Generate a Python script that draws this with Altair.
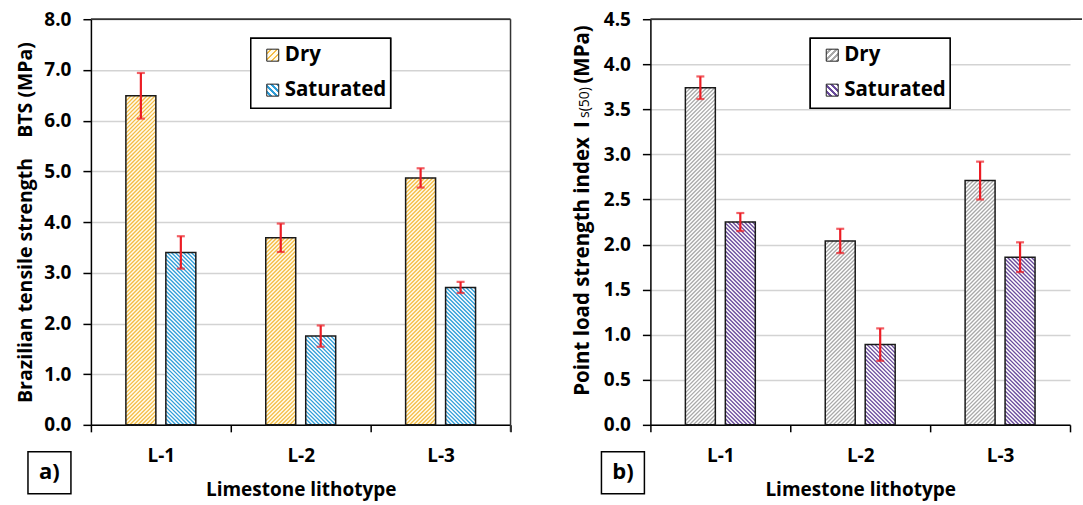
import math
import altair as alt
import pandas as pd

# ---------------- data ----------------
lithotypes = ["L-1", "L-2", "L-3"]
series = ["Dry", "Saturated"]

bts_dry = [6.49, 3.69, 4.87]
bts_dry_err = [0.45, 0.28, 0.19]
bts_sat = [3.40, 1.75, 2.71]
bts_sat_err = [0.32, 0.21, 0.11]

pl_dry = [3.74, 2.04, 2.71]
pl_dry_err = [0.125, 0.135, 0.21]
pl_sat = [2.25, 0.89, 1.86]
pl_sat_err = [0.10, 0.18, 0.165]

bts_ticks = [0, 1, 2, 3, 4, 5, 6, 7, 8]
pl_ticks = [0, 0.5, 1, 1.5, 2, 2.5, 3, 3.5, 4, 4.5]

# ---------------- styling ----------------
FONT = "Open Sans"
PLOT_H = 406
BAND = 140
BAR_W = 30
BAR_LEFT = {"Dry": 35, "Saturated": 75}   # position of each bar inside its band (px)
PERIOD = 4.0
RED = "#ec1c24"

style_a = {
    "Dry": {"bg": "#fffbec", "fg": "#f4bc45", "dir": "/"},
    "Saturated": {"bg": "#ffffff", "fg": "#2f9dd8", "dir": "\\"},
}
style_b = {
    "Dry": {"bg": "#ffffff", "fg": "#a9a9a9", "dir": "/"},
    "Saturated": {"bg": "#ffffff", "fg": "#6a4b9c", "dir": "\\"},
}


def legend_grad(bg, fg, direction, n=4, frac=0.45):
    """small striped gradient for the legend squares"""
    if direction == "/":
        x1, y1, x2, y2 = 0.0, 0.0, 1.0, 1.0
    else:
        x1, y1, x2, y2 = 0.0, 1.0, 1.0, 0.0
    stops = []
    for k in range(n):
        a, b, c = k / n, (k + 1 - frac) / n, (k + 1) / n
        stops += [(a, bg), (b, bg), (b, fg), (c, fg)]
    return {"gradient": "linear", "x1": x1, "y1": y1, "x2": x2, "y2": y2,
            "stops": [{"offset": round(o, 5), "color": c} for o, c in stops]}


def make_df(dry, dry_err, sat, sat_err):
    rows = []
    for i, lt in enumerate(lithotypes):
        rows.append(dict(lithotype=lt, series="Dry", value=dry[i],
                         lo=dry[i] - dry_err[i], hi=dry[i] + dry_err[i]))
        rows.append(dict(lithotype=lt, series="Saturated", value=sat[i],
                         lo=sat[i] - sat_err[i], hi=sat[i] + sat_err[i]))
    return pd.DataFrame(rows)


def hatch_df(df, px, styles):
    """45-degree hatch segments clipped to each bar, in data units."""
    rows = []
    w = BAR_W
    for row in df.itertuples():
        i = lithotypes.index(row.lithotype)
        left = BAR_LEFT[row.series]
        h = row.value * px
        segs = []
        if styles[row.series]["dir"] == "/":
            k = 0
            while True:
                c = -w + (k + 0.5) * PERIOD
                if c >= h:
                    break
                u0, v0 = (0.0, c) if c >= 0 else (-c, 0.0)
                u1, v1 = (w, c + w) if c + w <= h else (h - c, h)
                segs.append((u0, v0, u1, v1))
                k += 1
        else:
            k = 0
            while True:
                c = (k + 0.5) * PERIOD
                if c >= w + h:
                    break
                u0, v0 = (0.0, c) if c <= h else (c - h, h)
                u1, v1 = (c, 0.0) if c <= w else (w, c - w)
                segs.append((u0, v0, u1, v1))
                k += 1
        for u0, v0, u1, v1 in segs:
            rows.append(dict(series=row.series,
                             hx0=i + (left + u0) / BAND, hx1=i + (left + u1) / BAND,
                             hy0=v0 / px, hy1=v1 / px))
    return pd.DataFrame(rows)


def panel(df, ymax, yticks, ytitle, styles, tag, plot_w, tag_x, right_border):
    px = PLOT_H / ymax
    x_axis = alt.Axis(
        title="Limestone lithotype", labelAngle=0, labelFont=FONT, labelFontSize=19,
        labelFontWeight="bold", labelColor="black", labelPadding=15, tickSize=7,
        tickBand="extent", tickColor="black", tickWidth=1.5, domainColor="black",
        domainWidth=1.5, titleFont=FONT, titleFontSize=19, titleFontWeight="bold",
        titleColor="black", titlePadding=15, grid=False,
    )
    y_axis = alt.Axis(
        values=yticks, format=".1f", labelFont=FONT, labelFontSize=19,
        labelFontWeight="bold", labelColor="black", labelPadding=12, tickSize=8,
        tickColor="black", tickWidth=1.5, domainColor="black", domainWidth=1.5,
        gridColor="#d3d3d3", gridWidth=1.5, title=ytitle if ytitle else None,
        titleFont=FONT, titleFontSize=19.5, titleFontWeight="bold", titleColor="black",
        titlePadding=8,
    )
    xscale = alt.Scale(domain=lithotypes, range=[0, 3 * BAND], paddingInner=0, paddingOuter=0)
    x_ax = alt.X("lithotype:N", sort=lithotypes, scale=xscale, axis=x_axis)
    x_na = alt.X("lithotype:N", sort=lithotypes, scale=xscale, axis=None)
    xoff = alt.XOffset("series:N", sort=series,
                       scale=alt.Scale(domain=series, paddingInner=0.25, paddingOuter=0.875))
    yscale = alt.Scale(domain=[0, ymax], nice=False, zero=True)
    y = alt.Y("value:Q", scale=yscale, axis=y_axis)

    base = alt.Chart(df)
    layers = []
    # bar background
    layers.append(base.mark_bar().encode(
        x=x_ax, xOffset=xoff, y=y,
        fill=alt.Fill("series:N", scale=alt.Scale(domain=series,
                                                   range=[styles[s]["bg"] for s in series]),
                      legend=None)))
    # hatch lines
    hd = hatch_df(df, px, styles)
    layers.append(alt.Chart(hd).mark_rule(strokeWidth=1.35).encode(
        x=alt.X("hx0:Q", scale=alt.Scale(domain=[0, 3], range=[0, 3 * BAND], nice=False,
                                         zero=False), axis=None),
        x2="hx1:Q",
        y=alt.Y("hy0:Q", scale=yscale), y2="hy1:Q",
        color=alt.Color("series:N", scale=alt.Scale(domain=series,
                                                     range=[styles[s]["fg"] for s in series]),
                        legend=None)))
    # outlines
    layers.append(base.mark_bar(fillOpacity=0, stroke="#1a1a1a", strokeWidth=1.5).encode(
        x=x_na, xOffset=xoff, y=y))
    # error bars
    layers.append(base.mark_rule(color=RED, strokeWidth=2.2).encode(
        x=x_na, xOffset=xoff, y=alt.Y("lo:Q", scale=yscale), y2="hi:Q"))
    layers.append(base.mark_tick(color=RED, thickness=2.2, size=8, orient="horizontal").encode(
        x=x_na, xOffset=xoff, y=alt.Y("hi:Q", scale=yscale)))
    layers.append(base.mark_tick(color=RED, thickness=2.2, size=8, orient="horizontal").encode(
        x=x_na, xOffset=xoff, y=alt.Y("lo:Q", scale=yscale)))

    # legend box
    leg = pd.DataFrame({"series": series})
    layers.append(alt.Chart(leg).mark_rect(fill="white", stroke="black", strokeWidth=1.5).encode(
        x=alt.value(160), x2=alt.value(300), y=alt.value(19), y2=alt.value(89)))
    for i, s in enumerate(series):
        st = styles[s]
        cy = 36 + 35 * i
        layers.append(alt.Chart(leg).transform_filter(f"datum.series == '{s}'").mark_rect(
            fill=legend_grad(st["bg"], st["fg"], st["dir"]),
            stroke="#222222", strokeWidth=1).encode(
            x=alt.value(176), x2=alt.value(188), y=alt.value(cy - 6), y2=alt.value(cy + 6)))
        layers.append(alt.Chart(leg).transform_filter(f"datum.series == '{s}'").mark_text(
            font=FONT, fontSize=20.5, fontWeight="bold", align="left", baseline="middle",
            color="black").encode(text="series:N", x=alt.value(194), y=alt.value(cy)))

    # panel tag box
    tagdf = pd.DataFrame({"tag": [tag]})
    layers.append(alt.Chart(tagdf).mark_rect(fill="white", stroke="black", strokeWidth=1.5).encode(
        x=alt.value(tag_x), x2=alt.value(tag_x + 43), y=alt.value(433), y2=alt.value(475)))
    layers.append(alt.Chart(tagdf).mark_text(font=FONT, fontSize=22, fontWeight="bold",
                                             align="center", baseline="middle", color="black").encode(
        text="tag:N", x=alt.value(tag_x + 21.5), y=alt.value(453)))

    # borders
    layers.append(alt.Chart(tagdf).mark_rule(color="#333333", strokeWidth=1.8).encode(
        x=alt.value(0), x2=alt.value(plot_w), y=alt.value(0)))
    if right_border:
        layers.append(alt.Chart(tagdf).mark_rule(color="#333333", strokeWidth=1.5).encode(
            x=alt.value(plot_w), y=alt.value(0), y2=alt.value(PLOT_H + 7)))
    return layers


df_a = make_df(bts_dry, bts_dry_err, bts_sat, bts_sat_err)
df_b = make_df(pl_dry, pl_dry_err, pl_sat, pl_sat_err)

layers_a = panel(df_a, 8.0, bts_ticks,
                 "Brazilian tensile strength\u00a0\u00a0\u00a0\u00a0BTS (MPa)",
                 style_a, "a)", 420, -63, True)
layers_b = panel(df_b, 4.5, pl_ticks, None, style_b, "b)", 432, -49, False)

# manual y title for panel b (with subscript); each piece anchored at its upper end
tdf = pd.DataFrame({"t": ["Point load strength index", "I", "s(50)", "(MPa)"]})
TX = -67
TFS = 20.5
title_parts = [
    ("(MPa)", TFS, "bold", 6, 0),
    ("s(50)", 14, "normal", 68, 2),
    ("I", TFS, "bold", 102, 0),
    ("Point load strength index", TFS, "bold", 118, 0),
]
for txt, fs, fw, ytop, dx in title_parts:
    layers_b.append(alt.Chart(tdf).transform_filter(f"datum.t == '{txt}'").mark_text(
        font=FONT, fontSize=fs, fontWeight=fw, angle=270, align="right", baseline="middle",
        color="black").encode(text="t:N", x=alt.value(TX + dx), y=alt.value(ytop)))

chart_a = alt.layer(*layers_a).resolve_scale(x="independent").properties(width=420, height=PLOT_H)
chart_b = alt.layer(*layers_b).resolve_scale(x="independent").properties(width=432, height=PLOT_H)

chart = alt.hconcat(chart_a, chart_b, spacing=62).resolve_scale(
    color="independent", fill="independent"
).properties(
    padding={"left": 15, "top": 10, "right": 0, "bottom": 4},
    background="white",
).configure_view(stroke=None)

chart.save("out.html", embed_options={"renderer": "svg", "actions": False})
